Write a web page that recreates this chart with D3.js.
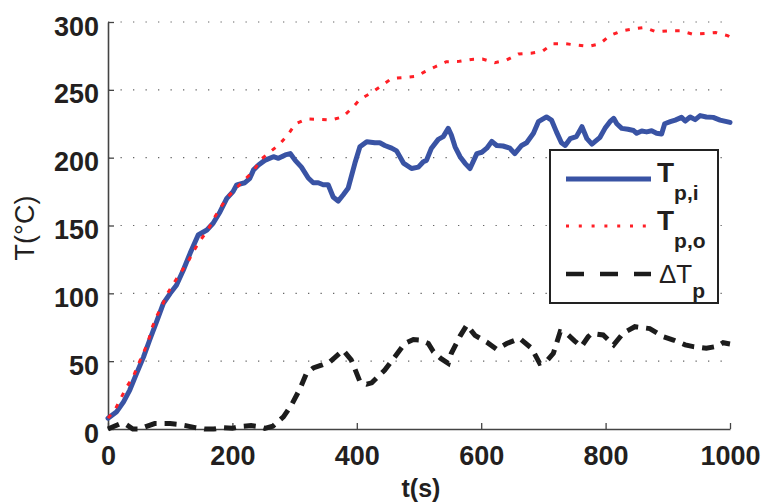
<!DOCTYPE html>
<html><head><meta charset="utf-8">
<script src="https://cdn.jsdelivr.net/npm/d3@7"></script>
<style>body{margin:0;background:#fff}svg{display:block}</style>
</head><body><svg id="c" width="765" height="504"></svg>
<script>
const xTicks = [0, 200, 400, 600, 800, 1000];
const yTicks = [0, 50, 100, 150, 200, 250, 300];

const tpiTime = [0,14,25,35,46,57,67,78,89,100,110,121,132,145,159,169,180,191,201,207,220,228,234,242,252,266,274,285,293,301,311,322,330,338,346,354,362,370,378,386,397,405,416,429,437,445,456,464,475,488,499,507,512,520,531,539,547,552,558,566,574,582,593,601,609,617,625,635,646,654,665,673,684,692,705,713,721,729,735,743,753,762,770,778,791,799,807,813,818,826,836,845,850,858,866,874,882,890,895,904,912,922,928,936,944,952,962,973,984,1000];
const tpiValue = [8,12.8,20,28.7,41,53,65.6,79,92.6,100,106,117,129.5,143,146.7,151.6,160,170,175,180,181.5,184.8,191,194.6,198,200.7,199.5,202,203,198,193,185,181.5,181.5,180,180,171,168,172.5,177.4,196,208,211.8,211,211,209,207,205,196,192,193,197,198,207,213.5,215.5,221.6,216.7,208,200.7,195.8,192,203,204,207,212,209,208.6,207,203,209,211,218,226.5,230,227.7,219,211,209,214,215.5,222.8,214,210,215,221.6,226.5,229,225,221.6,220.9,220,218,219.6,219,219.8,218,217.4,225,226.5,227.7,229.7,227,230,228,231,230,229.7,227.7,226];

const tpoTime = [0,11,21,30,41,48,57,65,70,78,87,95,105,117,128,137,148,161,170,180,192,206,220,234,244,260,276,290,301,319,338,358,377,392,405,424,440,456,476,496,508,526,544,565,584,602,622,641,660,680,699,715,735,753,772,791,807,826,845,862,881,901,920,940,960,977,996,1000];
const tpoValue = [8,14,23,31,39,47,56,65,73.7,82.8,91,99.5,107,115.5,122.6,130.7,138.8,147,155,162.6,170.8,177.4,184,190,198,204,210,217.4,224.8,228.5,228.3,227.7,230,236.3,243,248,253,258.4,259,260,263,267,270.7,271,272.4,272.7,270,272,276.5,277,278.6,284,284,283,282,284,290,293.5,295,296,292.8,293.5,293.5,291,291.6,292.3,290,289];

const dtTime = [0,10,20,30,40,50,62,75,90,100,112,125,140,155,170,185,200,215,230,244,252,265,282,295,309,319,330,343,357,378,391,405,416,424,445,461,477,491,502,515,523,535,547,552,566,577,590,609,625,641,662,681,694,705,716,727,737,750,761,772,778,796,813,828,847,871,893,909,928,941,962,980,989,1000];
const dtValue = [0,2,4,3,0,0,2,4,4,4,3.5,2.5,1,0,0,1,0.5,2,2.5,1.7,0.5,2,9,17.7,30,41,45,47,49.6,58,51,35,33,34,43.5,53,63,66,65.6,63,57,52,48.4,55.8,68.5,76.6,69,64,58.7,63,66.8,59.5,48.4,50,55.8,71.7,70.5,65,60.7,68,70.5,69.3,62,70.5,75.4,74,68,65.6,62,60.7,59.5,61,63.6,62.7];

const svg = d3.select("#c");
const x = d3.scaleLinear().domain([0, 1000]).range([108, 730]);
const y = d3.scaleLinear().domain([0, 300]).range([429, 22]);
const FONT = "'Liberation Sans', Arial, Helvetica, sans-serif";

// grid
svg.append("g").selectAll("line").data(yTicks.filter(d => d > 0)).join("line")
  .attr("x1", x(0)).attr("x2", x(1000))
  .attr("y1", d => y(d)).attr("y2", d => y(d))
  .attr("stroke", "#666").attr("stroke-width", 1.2)
  .attr("stroke-dasharray", "1.3,11.2");

// axes
const fmt = d3.format("d");
const xAxis = d3.axisBottom(x).tickValues(xTicks).tickFormat(fmt).tickSizeInner(-6).tickSizeOuter(0).tickPadding(17);
const yAxis = d3.axisLeft(y).tickValues(yTicks).tickFormat(fmt).tickSizeInner(-6).tickSizeOuter(0).tickPadding(9);
const gx = svg.append("g").attr("transform", `translate(0,${y(0)})`).call(xAxis);
const gy = svg.append("g").attr("transform", `translate(${x(0)},0)`).call(yAxis);
[gx, gy].forEach(g => {
  g.select(".domain").attr("stroke", "#444").attr("stroke-width", 1.6);
  g.selectAll(".tick line").attr("stroke", "#444").attr("stroke-width", 1.3);
  g.selectAll(".tick text").attr("fill", "#231f20")
    .style("font-family", FONT).style("font-size", "27px").style("font-weight", "bold");
});
gy.selectAll(".tick text").attr("dy", "13px");
gx.selectAll(".tick text").attr("dy", "0.71em");

// lines
const line = (ts, vs) => d3.line().x((d, i) => x(ts[i])).y((d, i) => y(vs[i]))(vs);
svg.append("path").attr("d", line(tpiTime, tpiValue)).attr("fill", "none")
  .attr("stroke", "#3953a4").attr("stroke-width", 5).attr("stroke-linejoin", "round").attr("stroke-linecap", "round");
svg.append("path").attr("d", line(tpoTime, tpoValue)).attr("fill", "none")
  .attr("stroke", "#ff1f26").attr("stroke-width", 3).attr("stroke-dasharray", "4.5,8.2");
svg.append("path").attr("d", line(dtTime, dtValue)).attr("fill", "none")
  .attr("stroke", "#1c1c1c").attr("stroke-width", 5).attr("stroke-dasharray", "12,8");

// axis labels
svg.append("text").attr("transform", "translate(34,228) rotate(-90)")
  .attr("text-anchor", "middle").attr("fill", "#231f20")
  .style("font-family", FONT).style("font-size", "27px").text("T(°C)");
svg.append("text").attr("x", 421).attr("y", 497).attr("text-anchor", "middle").attr("fill", "#231f20")
  .style("font-family", FONT).style("font-size", "25px").style("font-weight", "bold").text("t(s)");

// legend
const lg = svg.append("g");
lg.append("rect").attr("x", 550).attr("y", 150).attr("width", 168).attr("height", 153)
  .attr("fill", "#fff").attr("stroke", "#222").attr("stroke-width", 2);
lg.append("line").attr("x1", 566).attr("x2", 651).attr("y1", 179).attr("y2", 179)
  .attr("stroke", "#3953a4").attr("stroke-width", 5);
lg.append("line").attr("x1", 566).attr("x2", 653).attr("y1", 226).attr("y2", 226)
  .attr("stroke", "#ff1f26").attr("stroke-width", 3).attr("stroke-dasharray", "3,9.8");
lg.append("line").attr("x1", 566).attr("x2", 651).attr("y1", 274).attr("y2", 274)
  .attr("stroke", "#1c1c1c").attr("stroke-width", 4.5).attr("stroke-dasharray", "18,16");

const labels = [
  {main: "T", sub: "p,i", x: 657, y: 182, size: 28, bold: true, dy: 18},
  {main: "T", sub: "p,o", x: 657, y: 230, size: 28, bold: true, dy: 18},
  {main: "\u0394T", sub: "p", x: 659, y: 283, size: 26, bold: false, dy: 15}
];
labels.forEach(l => {
  const t = lg.append("text").attr("x", l.x).attr("y", l.y).attr("fill", "#231f20")
    .style("font-family", FONT).style("font-size", l.size + "px").style("font-weight", l.bold ? "bold" : "normal");
  t.append("tspan").text(l.main);
  t.append("tspan").attr("dy", l.dy).style("font-size", "21px").style("font-weight", "bold").text(l.sub);
});
</script></body></html>
